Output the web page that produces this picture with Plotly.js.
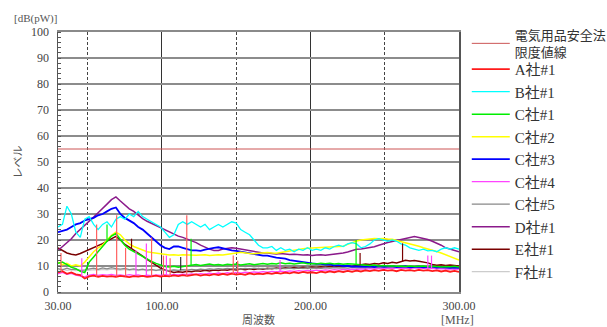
<!DOCTYPE html>
<html>
<head>
<meta charset="utf-8">
<script src="https://cdn.plot.ly/plotly-3.0.1.min.js"></script>
<style>html,body{margin:0;padding:0;background:#fff;}#chart{width:607px;height:327px;}</style>
</head>
<body>
<div id="chart"></div>
<script>
// Frequency points (MHz)
const freq = [30,33,36,39,42,45,48,51,54,57,60,63,66,69,72,75,78,81,84,87,90,93,96,99,102,105,108,111,114,117,120,123,126,129,132,135,138,141,144,147,150,153,156,159,162,165,168,171,174,177,180,183,186,189,192,195,198,201,204,207,210,213,216,219,222,225,228,231,234,237,240,243,246,249,252,255,258,261,264,267,270,273,276,279,282,285,288,291,294,297,300];

// Series names
const names = ["電気用品安全法<br>限度値線","A社#1","B社#1","C社#1","C社#2","C社#3","C社#4","C社#5","D社#1","E社#1","F社#1"];

// Limit line level (dB(pW))
const limitLevel = [55, 55];
const limitFreq = [30, 300];

// A社#1
const seriesA = [7.5,8,7,7.5,6.8,6.5,5.2,6,6.3,5.8,6.2,5.9,6.1,5.8,6.2,6,5.7,6.1,5.9,6.2,5.8,6,6.3,5.9,6.2,6,6.4,6.1,6.5,6.2,6.4,6.8,6.3,6.7,6.4,6.9,6.5,7,6.6,7.1,6.7,7,6.6,7.2,6.8,7.1,6.9,7.3,7,7.4,7.1,7.5,7.2,7.6,7.3,7.7,7.4,7.6,7.3,7.8,7.5,7.9,7.6,8,7.7,8.1,7.8,8.2,7.9,8.3,8,8.4,8.1,8.5,8.2,8.4,8,8.5,8.2,8.4,8.1,8.5,8.2,8.4,8,8.3,7.9,8.2,7.8,8.1,7.7];
// B社#1
const seriesB = [25,26,33,30,23,21,28,29,26,24,26,27,25,28,29,28,30,29,31,29,28,27,26,25,23,21,22,26,27,26,27,26,25,26,24,25,26,25,26,27,26.5,24,23,22,20,18,17,17,17.5,16,17,16,16.5,15.5,16.5,16,17,16,16.5,16,17,16.5,17.5,18,17.5,18.5,19,18.5,17,17.5,18.5,20,20.5,20,19.5,20,19.5,18.5,18,17,16.5,16,16.5,15.8,16,15.5,16.5,17,16.5,17,16.5];
// C社#1
const seriesC1 = [11,11.5,10.5,9.5,9,8,7.5,11.5,13.5,15.5,17.5,19.5,21.5,22.5,20,18,16.5,15.5,14.5,13.5,12.5,11.8,11,10.4,9.8,9.6,9.9,9.5,9.8,10,10.3,10.6,10.2,10.5,10.8,10.4,10.6,10.3,10.7,10.5,10.8,10.4,10.6,10.9,10.5,10.8,11,10.7,11,10.8,11.2,10.9,11.1,10.8,11,11.2,10.9,11,10.8,11.1,10.9,11.1,10.8,11,10.7,10.9,10.8,10.6,10.5,10.3,10.2,10.4,10,10.2,10,10.1,9.9,10,9.8,10,9.8,9.9,10,9.7,9.9,9.8,9.6,9.8,9.7,9.9,9.6];
// C社#2
const seriesC2 = [11.5,10.5,11,10,10.5,10,11.5,13.5,15.5,17,18,20,21.8,23,22,20,18.5,17.5,16.8,16,15.5,15.2,14.9,14.6,14.3,14.2,14.3,14.1,14.3,14.2,14.3,14.1,14.2,14.3,14,14.2,14.3,14.2,14.4,14.6,15,15.3,15,14.8,14.7,14.8,15,15.2,15,14.9,15.2,15.5,15.8,16.2,16.4,16.6,16.8,16.9,17,17.1,17.2,17.3,17.4,17.4,17.6,18.3,19,19.6,20,20.2,20.4,20.6,20.5,20.6,20.4,20.3,19.8,19.4,19,18.5,18,17.6,17,16.6,16.2,15.6,15,14.4,13.8,13,12.3];
// C社#3
const seriesC3 = [23,23.5,24,25,26,26.5,27.5,28,28.5,29.5,30,31,32,32.5,30,28.5,27.5,26.5,25,24,22.5,21,19.5,18,17,16.5,17.5,17.5,17,16.5,16,16,15.8,16.3,16.8,17,17.2,16.8,16.3,16,15.8,15.5,15.2,15,14.6,14.3,14,14,13.5,13.2,13,12.8,12.3,12,11.8,11.4,11.2,11,10.8,10.8,10.5,10.6,10.2,10.3,10,10.1,9.8,9.9,9.8,9.7,9.9,9.6,10,9.7,9.8,10,9.6,9.8,9.9,9.5,9.7,9.8,9.5,9.6,9.8,9.4,9.6,9.5,9.3,9.5,9.3];
// C社#4
const seriesC4 = [7,7.5,6.8,7.2,6.5,6,5.8,6.5,6.8,6.4,6.7,6.5,6.8,6.4,6.6,6.3,6.7,6.4,6.6,6.2,6.5,6.3,6.6,6.4,6.7,6.5,6.8,6.6,6.9,6.7,7,6.8,7.1,6.9,7.2,7,7.3,7.1,7.4,7.2,7.5,7.3,7.6,7.4,7.7,7.5,7.8,7.6,7.9,7.7,8,7.8,8.1,7.9,8.2,8,8.3,8.1,8.4,8.2,8.5,8.3,8.6,8.4,8.7,8.5,8.8,8.6,8.9,8.7,9,8.8,9.1,8.9,9.2,9,9.3,9.1,9.2,9,9.3,9.1,9.2,9,9.1,8.9,9,8.8,8.9,8.7,8.8];
// C社#5
const seriesC5 = [9,8.5,9.2,8.6,8.8,8.2,8.5,8.8,9.2,8.7,9.3,8.9,9.4,9,8.8,9.1,8.6,8.9,8.5,8.8,8.4,8.7,8.3,8.6,8.4,8.2,8.5,8.3,8.6,8.4,8.7,8.5,8.8,8.6,8.9,8.7,9,8.8,9.1,8.9,9,8.8,9.1,8.9,9.2,9,9.1,8.9,9.2,9,9.3,9.1,9.2,9,9.3,9.1,9.4,9.2,9.3,9.1,9.4,9.2,9.5,9.3,9.4,9.2,9.5,9.3,9.4,9.2,9.5,9.3,9.4,9.2,9.5,9.3,9.6,9.4,9.5,9.3,9.6,9.4,9.5,9.3,9.4,9.2,9.3,9.1,9.2,9,9.1];
// D社#1
const seriesD = [16,17.5,19,20.5,22.5,24,25.8,27.3,28.8,30.5,32,33.8,35.5,36.6,35,33.5,32,31,29.6,28.2,27.2,26.4,25.5,24.5,23.8,23.2,22.4,21.5,21,20.3,19.8,19,18,17.2,16.5,16,16,16.5,16.8,17,16.8,16.5,16.2,16,15.6,15.5,15,15,14.8,14.6,14.8,14.6,14.4,14.5,14.3,14.2,14.3,14,14.2,14.3,14.1,14.3,14.5,14.7,15,15.4,16,16.4,16.5,16.8,17,17.4,18,18.6,19,19.4,19.8,20,20.5,21,21.3,21,20.7,20.2,19.5,18.8,18,17,16.4,16,15.5];
// E社#1
const seriesE = [17,16,15,14.5,14.2,14.8,15.5,16.3,17,17.8,18.6,19.6,20.6,21.4,20,18.3,17.3,16.2,15,13.8,12.5,11.3,10.2,9.2,8.5,7.9,7.5,7.8,7.6,8,7.8,8.2,8,8.4,8.1,8.5,8.3,8.6,8.4,8.7,8.5,8.8,8.6,8.9,8.7,9,8.8,9.1,8.9,9.2,9,9.3,9.1,9.4,9.2,9.5,9.3,9.6,9.4,9.7,9.5,9.8,9.6,9.9,9.7,10,9.8,10.2,10.5,10.8,10.6,11,10.8,11.2,11,11.4,11.2,11.8,12.2,11.9,12.1,11.8,11.6,11.2,10.6,10.3,10.5,10.2,10.4,10.1,10];
// F社#1
const seriesF = [8.5,8.8,8.3,8.6,8.2,8.4,8.1,8.3,8.6,8.4,8.7,8.5,8.8,8.6,8.4,8.7,8.3,8.6,8.2,8.5,8.1,8.4,8.2,8.5,8.3,8.1,8.4,8.2,8.5,8.3,8.6,8.4,8.7,8.5,8.8,8.6,8.9,8.7,8.8,8.6,8.9,8.7,9,8.8,8.9,8.7,9,8.8,9.1,8.9,9,8.8,9.1,8.9,9.2,9,9.1,8.9,9.2,9,9.3,9.1,9.2,9,9.3,9.1,9.4,9.2,9.3,9.1,9.4,9.2,9.3,9.1,9.4,9.2,9.5,9.3,9.4,9.2,9.5,9.3,9.4,9.2,9.3,9.1,9.2,9,9.1,8.9,9];

// Narrow spikes (frequency, base level, peak level)
const spikeA_f = [32,56,69.5,75.5,93,101,105.5,116.7,148,151];
const spikeA_lo = [7.5,6,6,6,6,6.2,6,6.2,6.8,7];
const spikeA_hi = [15,26,29.5,17,21,14,13,29.5,14,12];
const spikeC1_f = [63,119.6,230.7];
const spikeC1_lo = [19.5,10.3,10.6];
const spikeC1_hi = [26,20.5,20];
const spikeC4_f = [46,82.5,89.5,103,179.5,279,281.5];
const spikeC4_lo = [6,6.4,6.3,6.7,8,9,9.1];
const spikeC4_hi = [13,16,18.7,14,12.3,14,14];
const spikeC5_f = [112.6];
const spikeC5_lo = [8.4];
const spikeC5_hi = [13.5];
const spikeE_f = [79.5,233.4,262];
const spikeE_lo = [16.8,10.5,11.8];
const spikeE_hi = [20.5,15,18.7];

// Axis ticks
const xTickVals = [30,100,200,300];
const xTickText = ["30.00","100.00","200.00","300.00"];
const xDashVals = [50,150,250];
const yTickVals = [0,10,20,30,40,50,60,70,80,90,100];

const colors = {
  limit:"#cc5555", A:"#ff1a1a", B:"#00ffff", C1:"#00ee00", C2:"#ffff00", C3:"#0000ff",
  C4:"#ff44ff", C5:"#888888", D:"#8b1a8b", E:"#7a0000", F:"#cccccc"
};

function lineTrace(y, name, color, w, rank){
  return {x: freq, y: y, type:"scatter", mode:"lines", name: name,
          line:{color: color, width: w}, legendrank: rank, showlegend: true};
}
function spikeTrace(f, lo, hi, color){
  const xs = [], ys = [];
  for (let i = 0; i < f.length; i++){ xs.push(f[i], f[i], null); ys.push(lo[i], hi[i], null); }
  return {x: xs, y: ys, type:"scatter", mode:"lines", line:{color: color, width: 1.2},
          showlegend:false, hoverinfo:"skip"};
}

const traces = [
  lineTrace(seriesF, names[10], colors.F, 1.3, 10),
  lineTrace(seriesE, names[9], colors.E, 1.5, 9),
  lineTrace(seriesD, names[8], colors.D, 1.5, 8),
  lineTrace(seriesC5, names[7], colors.C5, 1.3, 7),
  lineTrace(seriesC4, names[6], colors.C4, 1.3, 6),
  lineTrace(seriesC3, names[5], colors.C3, 1.8, 5),
  lineTrace(seriesC2, names[4], colors.C2, 1.5, 4),
  lineTrace(seriesC1, names[3], colors.C1, 1.5, 3),
  lineTrace(seriesB, names[2], colors.B, 1.3, 2),
  lineTrace(seriesA, names[1], colors.A, 1.8, 1),
  spikeTrace(spikeC5_f, spikeC5_lo, spikeC5_hi, "#333333"),
  spikeTrace(spikeE_f, spikeE_lo, spikeE_hi, colors.E),
  spikeTrace(spikeC1_f, spikeC1_lo, spikeC1_hi, colors.C1),
  spikeTrace(spikeC4_f, spikeC4_lo, spikeC4_hi, colors.C4),
  spikeTrace(spikeA_f, spikeA_lo, spikeA_hi, "#ff6060"),
  {x: limitFreq, y: limitLevel, type:"scatter", mode:"lines", name: names[0],
   line:{color: colors.limit, width: 1}, legend:"legend2", showlegend:true}
];

const serif = "Liberation Serif, Noto Sans CJK JP, serif";
const layout = {
  width: 607, height: 327,
  margin: {l:58, r:148, t:32, b:35, pad:0},
  paper_bgcolor:"#ffffff", plot_bgcolor:"#ffffff",
  showlegend: true,
  xaxis: {
    range:[30,300], tickmode:"array", tickvals:xTickVals, ticktext:xTickText,
    showgrid:true, gridcolor:"#333333", gridwidth:1,
    showline:true, linecolor:"#8a8a8a", linewidth:2, mirror:true,
    ticks:"", zeroline:false, ticklabelstandoff:2,
    tickfont:{family:serif, size:12, color:"#444"},
    minor:{tickmode:"array", tickvals:xDashVals, showgrid:true, gridcolor:"#444444", gridwidth:1, griddash:"3px,2px", ticks:""},
    title:{text:"周波数", font:{family:"Noto Sans CJK JP", size:11, color:"#555"}, standoff:7}
  },
  yaxis: {
    range:[0,100], tickmode:"array", tickvals:yTickVals,
    showgrid:true, gridcolor:"#8c8c8c", gridwidth:1.5,
    showline:true, linecolor:"#555555", linewidth:1.5, mirror:true,
    ticks:"", zeroline:false, ticklabelstandoff:5,
    tickfont:{family:serif, size:12, color:"#444"},
    minor:{dtick:2, tick0:0, ticks:"inside", ticklen:3, tickcolor:"#555", showgrid:false},
    title:{text:"レベル", font:{family:"Noto Sans CJK JP", size:11, color:"#555"}, standoff:6}
  },
  legend: {
    xref:"container", yref:"container",
    x:0.769, xanchor:"left", y:0.838, yanchor:"top",
    traceorder:"normal", maxheight:300,
    font:{family:serif, size:15, color:"#333"},
    bgcolor:"rgba(0,0,0,0)", borderwidth:0, itemwidth:38
  },
  legend2: {
    xref:"container", yref:"container",
    x:0.769, xanchor:"left", y:0.939, yanchor:"top",
    font:{family:serif, size:13, color:"#333"},
    bgcolor:"rgba(0,0,0,0)", borderwidth:0, itemwidth:38
  },
  annotations: [
    {text:"[dB(pW)]", xref:"paper", yref:"paper", x:-0.057, y:1.05, xanchor:"center", yanchor:"middle",
     showarrow:false, font:{family:serif, size:11, color:"#555"}},
    {text:"[MHz]", xref:"paper", yref:"paper", x:0.9975, y:-0.106, xanchor:"center", yanchor:"middle",
     showarrow:false, font:{family:serif, size:12, color:"#555"}}
  ]
};

Plotly.newPlot("chart", traces, layout, {staticPlot:true, displayModeBar:false});
</script>
</body>
</html>
